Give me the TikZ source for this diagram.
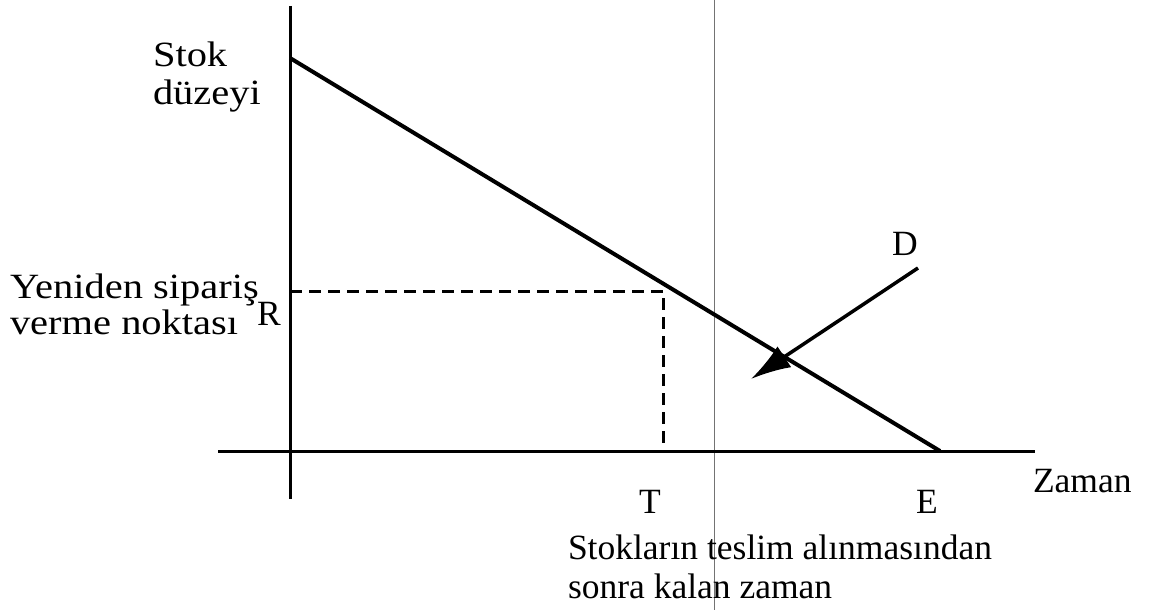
\documentclass[tikz,border=0pt]{standalone}
\usepackage{fontspec}
\setmainfont{Liberation Serif}
\usetikzlibrary{arrows.meta}
\newcommand{\widetext}[1]{\scalebox{1.14}[1]{\begin{tabular}[b]{@{}l@{}}#1\end{tabular}}}
\begin{document}
\begin{tikzpicture}[x=1pt,y=-1pt,
  every node/.style={inner sep=0pt,outer sep=0pt},
  lbl/.style={font=\fontsize{35.5}{38}\selectfont,align=left},
  axisline/.style={line width=3pt},
  stockline/.style={line width=4pt},
  dashline/.style={line width=3pt,dash pattern=on 12pt off 7pt},
  guide/.style={line width=1pt,draw=black!55},
  demand/.style={line width=3.5pt,-{Latex[length=40pt,width=25pt]}}]
\useasboundingbox (0,0) rectangle (1155,610);
% coordinates
\coordinate (vtop) at (290,6);
\coordinate (vbot) at (290,499);
\coordinate (hleft) at (218,451);
\coordinate (hright) at (1035,451);
\coordinate (s0) at (290,58);
\coordinate (e0) at (940,451);
\coordinate (rpt) at (290,291);
\coordinate (tc) at (663,291);
\coordinate (tb) at (663,451);
\coordinate (gtop) at (714,0);
\coordinate (gbot) at (714,610);
\coordinate (dstart) at (918,268);
\coordinate (dtip) at (751,379);
% guide line
\draw[guide] (gtop) -- (gbot);
% axes
\draw[axisline] (vtop) -- (vbot);
\draw[axisline] (hleft) -- (hright);
% stock line
\draw[stockline] (s0) -- (e0);
% dashed
\draw[dashline] (rpt) -- (tc) -- (tb);
% demand arrow
\draw[demand] (dstart) -- (dtip);
% labels
\node[font=\fontsize{35.5}{38}\selectfont,anchor=base west] (stok) at (153,104) {\widetext{Stok\\düzeyi}};
\node[font=\fontsize{35.5}{36}\selectfont,anchor=base west] (yen) at (10,334) {\widetext{Yeniden sipariş\\verme noktası}};
\node[lbl,anchor=base west] (R) at (257,325) {R};
\node[lbl,anchor=base] (D) at (905,255) {D};
\node[lbl,anchor=base] (T) at (650,513) {T};
\node[lbl,anchor=base] (E) at (927,513) {E};
\node[lbl,anchor=base west] (zaman) at (1033,492) {Zaman};
\node[lbl,font=\fontsize{35.5}{39}\selectfont,anchor=base west] (kalan) at (568,598) {Stokların teslim alınmasından\\sonra kalan zaman};
\end{tikzpicture}
\end{document}
